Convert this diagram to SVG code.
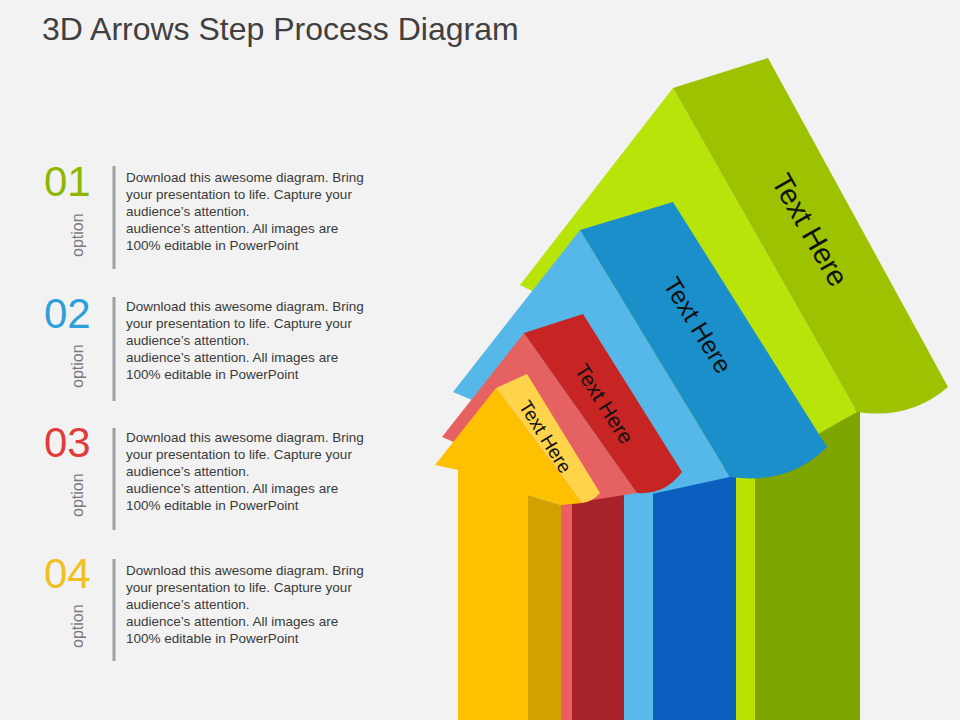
<svg xmlns="http://www.w3.org/2000/svg" width="960" height="720" viewBox="0 0 960 720">
<style>
.t{font-family:"Liberation Sans",Arial,sans-serif}
.num{font-family:"Liberation Sans",Arial,sans-serif;font-size:42px}
.opt{font-family:"Liberation Sans",Arial,sans-serif;font-size:16px;fill:#7a7a7a}
.desc{font-family:"Liberation Sans",Arial,sans-serif;font-size:13.5px;fill:#3a3a3a}
.bar{stroke:#a0a0a0;stroke-width:3}
.lbl{font-family:"Liberation Sans",Arial,sans-serif;fill:#111}
</style>
<rect width="960" height="720" fill="#f2f2f2"/>
<text class="t" x="42" y="40" font-size="32" fill="#404040">3D Arrows Step Process Diagram</text>

<g id="item1">
<text class="num" x="44" y="196" fill="#8db600">01</text>
<text class="opt" transform="translate(83,257) rotate(-90)">option</text>
<line class="bar" x1="114" y1="166" x2="114" y2="269"/>
<text class="desc" x="126" y="182">Download this awesome diagram. Bring</text>
<text class="desc" x="126" y="199">your presentation to life. Capture your</text>
<text class="desc" x="126" y="216">audience’s attention.</text>
<text class="desc" x="126" y="233">audience’s attention. All images are</text>
<text class="desc" x="126" y="250">100% editable in PowerPoint</text>
</g>
<g id="item2">
<text class="num" x="44" y="328" fill="#2e9fd8">02</text>
<text class="opt" transform="translate(83,388) rotate(-90)">option</text>
<line class="bar" x1="114" y1="297" x2="114" y2="401"/>
<text class="desc" x="126" y="311">Download this awesome diagram. Bring</text>
<text class="desc" x="126" y="328">your presentation to life. Capture your</text>
<text class="desc" x="126" y="345">audience’s attention.</text>
<text class="desc" x="126" y="362">audience’s attention. All images are</text>
<text class="desc" x="126" y="379">100% editable in PowerPoint</text>
</g>
<g id="item3">
<text class="num" x="44" y="457" fill="#e03c3c">03</text>
<text class="opt" transform="translate(83,517) rotate(-90)">option</text>
<line class="bar" x1="114" y1="428" x2="114" y2="530"/>
<text class="desc" x="126" y="442">Download this awesome diagram. Bring</text>
<text class="desc" x="126" y="459">your presentation to life. Capture your</text>
<text class="desc" x="126" y="476">audience’s attention.</text>
<text class="desc" x="126" y="493">audience’s attention. All images are</text>
<text class="desc" x="126" y="510">100% editable in PowerPoint</text>
</g>
<g id="item4">
<text class="num" x="44" y="588" fill="#f0c020">04</text>
<text class="opt" transform="translate(83,648) rotate(-90)">option</text>
<line class="bar" x1="114" y1="559" x2="114" y2="661"/>
<text class="desc" x="126" y="575">Download this awesome diagram. Bring</text>
<text class="desc" x="126" y="592">your presentation to life. Capture your</text>
<text class="desc" x="126" y="609">audience’s attention.</text>
<text class="desc" x="126" y="626">audience’s attention. All images are</text>
<text class="desc" x="126" y="643">100% editable in PowerPoint</text>
</g>

<g id="arrow-green">
<rect x="736" y="395" width="20" height="325" fill="#b8e000"/>
<polygon points="755,395 793,390 860,410 860,720 755,720" fill="#7fa600"/>
<polygon points="520,285 673,88 857,412 736,480 540,295" fill="#b8e40a"/>
<path d="M673,88 L768,58 L948,387 Q910,420 857,412 Z" fill="#9cc200"/>
<text class="lbl" font-size="29" text-anchor="middle" transform="translate(810,230) rotate(60.4)" dy="10">Text Here</text>
</g>
<g id="arrow-blue">
<rect x="624" y="460" width="30" height="260" fill="#5ab9ea"/>
<polygon points="653,455 736,470 736,720 653,720" fill="#0b5fbf"/>
<polygon points="453,392 580,230 730,477 624,500 472,400" fill="#56b8e8"/>
<path d="M580,230 L673,202 L827,447 Q790,485 730,477 Z" fill="#1a8fca"/>
<text class="lbl" font-size="25" text-anchor="middle" transform="translate(698,325) rotate(58.5)" dy="9">Text Here</text>
</g>
<g id="arrow-red">
<rect x="561" y="495" width="12" height="225" fill="#e86060"/>
<polygon points="572,495 600,492 624,495 624,720 572,720" fill="#a8222c"/>
<polygon points="442,437 524,333 637,493 561,505 456,443" fill="#e66262"/>
<path d="M524,333 L583,314 L682,472 Q665,495 637,493 Z" fill="#c72424"/>
<text class="lbl" font-size="21" text-anchor="middle" transform="translate(604,404) rotate(57.5)" dy="7">Text Here</text>
</g>
<g id="arrow-yellow">
<polygon points="435,465 496,388 582,503 561,505 528,495 458,470" fill="#ffc000"/>
<rect x="458" y="468" width="70" height="252" fill="#ffc000"/>
<polygon points="528,495 561,505 561,720 528,720" fill="#d4a200"/>
<path d="M496,388 L527,374 L600,493 Q592,502 582,503 Z" fill="#ffd44a"/>
<text class="lbl" font-size="19" text-anchor="middle" transform="translate(545,437) rotate(58)" dy="6">Text Here</text>
</g>
</svg>
